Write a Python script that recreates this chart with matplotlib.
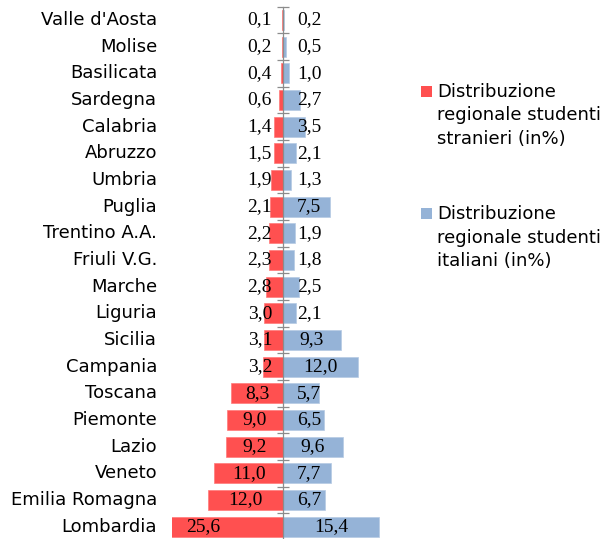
import matplotlib
matplotlib.use("Agg")
import matplotlib.pyplot as plt
import matplotlib.patches as mpatches
import numpy as np

# ── data (top to bottom as shown) ────────────────────────────────────────────
regions = ["Valle d'Aosta", "Molise", "Basilicata", "Sardegna", "Calabria",
           "Abruzzo", "Umbria", "Puglia", "Trentino A.A.", "Friuli V.G.",
           "Marche", "Liguria", "Sicilia", "Campania", "Toscana",
           "Piemonte", "Lazio", "Veneto", "Emilia Romagna", "Lombardia"]
stranieri = [0.1, 0.2, 0.4, 0.6, 1.4, 1.5, 1.9, 2.1, 2.2, 2.3,
             2.8, 3.0, 3.1, 3.2, 8.3, 9.0, 9.2, 11.0, 12.0, 25.6]
italiani = [0.2, 0.5, 1.0, 2.7, 3.5, 2.1, 1.3, 7.5, 1.9, 1.8,
            2.5, 2.1, 9.3, 12.0, 5.7, 6.5, 9.6, 7.7, 6.7, 15.4]
legend_labels = ["Distribuzione\nregionale studenti\nstranieri (in%)",
                 "Distribuzione\nregionale studenti\nitaliani (in%)"]

RED = "#FF5050"
BLUE = "#95B3D7"
GRAY = "#8C8C8C"

W, H = 601, 539
fig = plt.figure(figsize=(W / 100, H / 100), dpi=100)
fig.patch.set_facecolor("white")

# axes placed in pixel terms
ax_l, ax_r, ax_t, ax_b = 172, 383, 6.7, 540
ax = fig.add_axes([ax_l / W, 1 - ax_b / H, (ax_r - ax_l) / W, (ax_b - ax_t) / H])

n = len(regions)
y = np.arange(n)[::-1]   # first region at the top
s = np.array(stranieri)
it = np.array(italiani)

ax.barh(y, -s, height=0.74, color=RED, edgecolor="#FF7A7A", linewidth=0.5, zorder=1)
ax.barh(y, it, height=0.74, color=BLUE, edgecolor="#B5CAE4", linewidth=0.5, zorder=1)

ax.set_xlim(-17.76, 16.0)
ax.set_ylim(-0.5, n - 0.5)

for sp in ["top", "right", "bottom"]:
    ax.spines[sp].set_visible(False)
ax.spines["left"].set_position(("data", 0))
ax.spines["left"].set_color(GRAY)
ax.spines["left"].set_linewidth(0.9)
ax.spines["left"].set_zorder(3)
ax.set_xticks([])
ax.set_yticks(y)
ax.set_yticklabels([])
ax.tick_params(axis="y", which="major", length=0)
ax.set_yticks(np.arange(n + 1) - 0.5, minor=True)
ax.tick_params(axis="y", which="minor", direction="inout", length=8.6,
               width=0.9, color=GRAY)
ax.patch.set_alpha(0)

def fmt(v):
    return f"{v:.1f}".replace(".", ",")

num_font = dict(family="Liberation Serif", fontsize=14, color="black")
for yi, a, b, name in zip(y, s, it, regions):
    ax.text(-max(a / 2, 3.7), yi, fmt(a), ha="center", va="center", zorder=4, **num_font)
    ax.text(max(b / 2, 4.2), yi, fmt(b), ha="center", va="center", zorder=4, **num_font)
    ax.text(-0.071, yi, name, transform=ax.get_yaxis_transform(),
            ha="right", va="center", fontsize=13, family="DejaVu Sans", color="black")

# legend drawn as in the original (marker aligned with first line)
for (col, lab, top_line) in zip([RED, BLUE], legend_labels, [91, 213]):
    fig.patches.append(mpatches.Rectangle(((421) / W, 1 - (top_line + 5.5) / H),
                                          11 / W, 11 / H, transform=fig.transFigure,
                                          facecolor=col, edgecolor="none"))
    fig.text(437 / W, 1 - (top_line + 24.5) / H, lab, ha="left", va="center",
             fontsize=13, family="DejaVu Sans", linespacing=1.42, color="black")

fig.savefig("out.png", dpi=100, facecolor="white")
